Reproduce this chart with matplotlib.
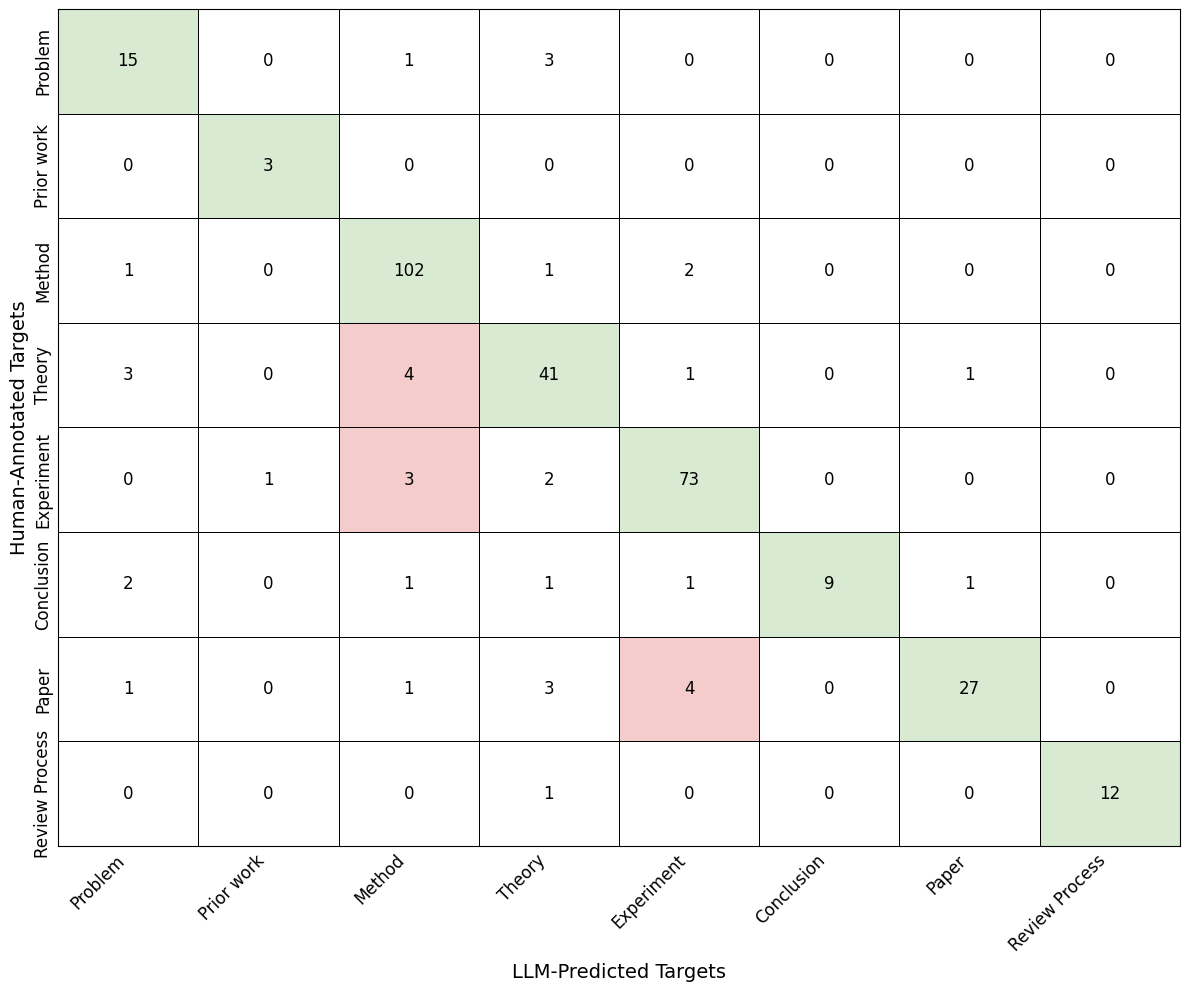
import matplotlib
matplotlib.use("Agg")
import matplotlib.pyplot as plt
import numpy as np
from matplotlib.colors import ListedColormap

LABELS = ["Problem", "Prior work", "Method", "Theory", "Experiment",
          "Conclusion", "Paper", "Review Process"]
# rows = human-annotated, cols = LLM-predicted
COUNTS = [
    [15, 0, 1, 3, 0, 0, 0, 0],
    [0, 3, 0, 0, 0, 0, 0, 0],
    [1, 0, 102, 1, 2, 0, 0, 0],
    [3, 0, 4, 41, 1, 0, 1, 0],
    [0, 1, 3, 2, 73, 0, 0, 0],
    [2, 0, 1, 1, 1, 9, 1, 0],
    [1, 0, 1, 3, 4, 0, 27, 0],
    [0, 0, 0, 1, 0, 0, 0, 12],
]
# off-diagonal cells highlighted in red (row, col)
RED_CELLS = [(3, 2), (4, 2), (6, 4)]

GREEN = "#d9ead3"
RED = "#f4cccc"


def main():
    cm = np.array(COUNTS)
    n = len(LABELS)
    cat = np.zeros_like(cm)
    np.fill_diagonal(cat, 1)
    for r, c in RED_CELLS:
        cat[r, c] = 2

    fig = plt.figure(figsize=(11.89, 9.89), dpi=100)
    ax = fig.add_axes([0.0488, 0.1446, 0.9436, 0.8463])
    ax.pcolormesh(np.arange(n + 1), np.arange(n + 1), cat,
                  cmap=ListedColormap(["white", GREEN, RED]), vmin=0, vmax=2,
                  edgecolors="black", linewidth=0.7)
    ax.set_xlim(0, n); ax.set_ylim(n, 0)
    for i in range(n):
        for j in range(n):
            ax.text(j + 0.5, i + 0.5, str(cm[i, j]), ha="center", va="center",
                    fontsize=12)
    ax.set_xticks(np.arange(n) + 0.5)
    ax.set_yticks(np.arange(n) + 0.5)
    ax.set_xticklabels(LABELS, rotation=45, ha="right", fontsize=12)
    ax.set_yticklabels(LABELS, rotation=90, va="center", fontsize=12)
    ax.tick_params(length=0, pad=4)
    for s in ax.spines.values():
        s.set_linewidth(0.8)
    ax.set_xlabel("LLM-Predicted Targets", fontsize=14, labelpad=6)
    ax.set_ylabel("Human-Annotated Targets", fontsize=14, labelpad=4)
    fig.savefig("out.png", dpi=100)
    plt.close(fig)


if __name__ == "__main__":
    main()
